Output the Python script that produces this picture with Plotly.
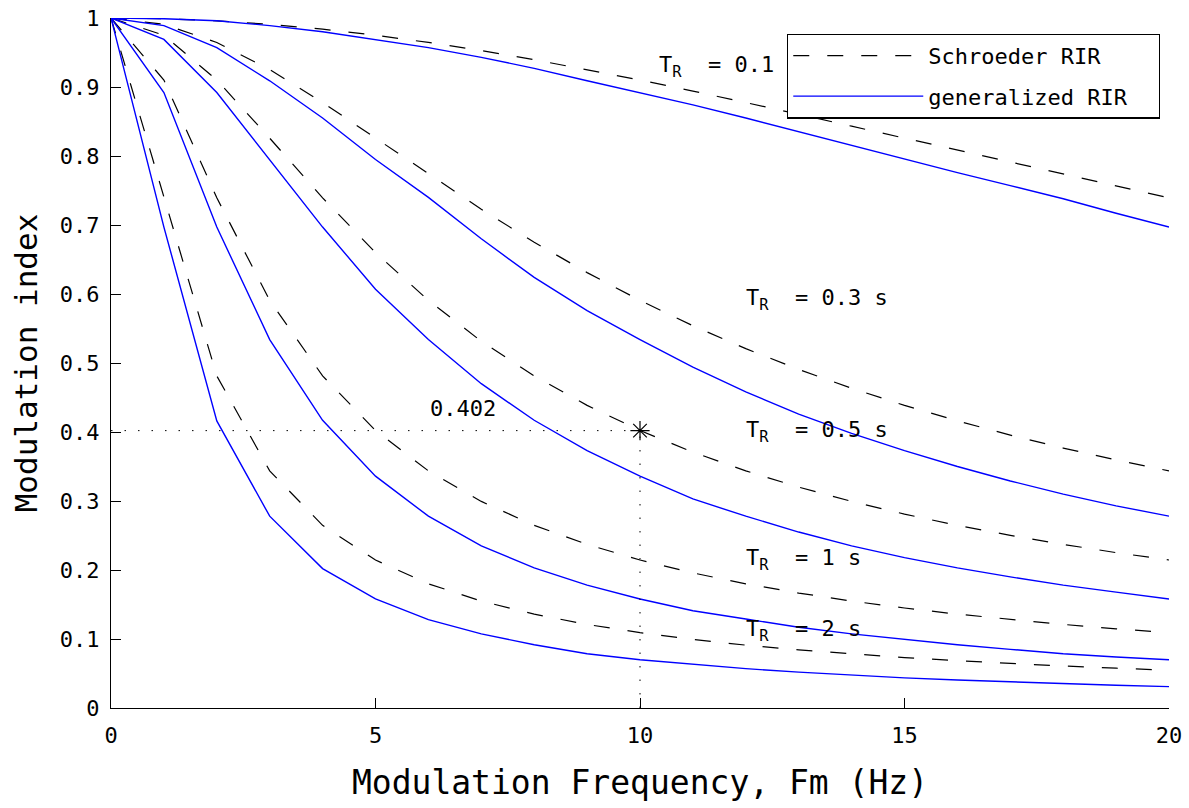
import plotly.graph_objects as go

# Modulation frequency (Hz)
freq = [0, 1, 2, 3, 4, 5, 6, 7, 8, 9, 10, 11, 12, 13, 14, 15, 16, 17, 18, 19, 20]

# Schroeder RIR modulation index (dashed black)
schroeder_t01 = [1, 0.999, 0.9959, 0.9908, 0.9838, 0.9750, 0.9646, 0.9528, 0.9396, 0.9253, 0.9101,
                 0.8941, 0.8776, 0.8606, 0.8432, 0.8258, 0.8083, 0.7908, 0.7734, 0.7563, 0.7394]
schroeder_t03 = [1, 0.9908, 0.9646, 0.9253, 0.8776, 0.8258, 0.7734, 0.7228, 0.6751, 0.6310, 0.5907,
                 0.5540, 0.5208, 0.4907, 0.4634, 0.4386, 0.4161, 0.3955, 0.3767, 0.3595, 0.3437]
schroeder_t05 = [1, 0.9750, 0.9101, 0.8258, 0.7394, 0.6600, 0.5907, 0.5315, 0.4813, 0.4386, 0.4022,
                 0.3708, 0.3437, 0.3201, 0.2994, 0.2810, 0.2647, 0.2502, 0.2371, 0.2252, 0.2145]
schroeder_t1 = [1, 0.9101, 0.7394, 0.5907, 0.4813, 0.4022, 0.3437, 0.2994, 0.2647, 0.2371, 0.2145,
                0.1958, 0.1800, 0.1666, 0.1550, 0.1449, 0.1360, 0.1281, 0.1211, 0.1148, 0.1092]
schroeder_t2 = [1, 0.7394, 0.4813, 0.3437, 0.2647, 0.2145, 0.1800, 0.1550, 0.1360, 0.1211, 0.1092,
                0.0993, 0.0911, 0.0842, 0.0783, 0.0731, 0.0685, 0.0645, 0.0609, 0.0577, 0.0548]

# Generalized RIR modulation index (solid blue)
general_t01 = [1, 0.999, 0.996, 0.989, 0.980, 0.969, 0.957, 0.943, 0.927, 0.909, 0.892,
               0.874, 0.855, 0.835, 0.815, 0.795, 0.776, 0.757, 0.738, 0.717, 0.697]
general_t03 = [1, 0.989, 0.957, 0.909, 0.855, 0.795, 0.740, 0.680, 0.624, 0.576, 0.534,
               0.494, 0.458, 0.426, 0.398, 0.373, 0.350, 0.329, 0.310, 0.293, 0.278]
general_t05 = [1, 0.969, 0.892, 0.795, 0.697, 0.607, 0.534, 0.470, 0.417, 0.373, 0.336,
               0.303, 0.278, 0.255, 0.235, 0.218, 0.203, 0.190, 0.178, 0.168, 0.158]
general_t1 = [1, 0.892, 0.697, 0.534, 0.417, 0.336, 0.278, 0.235, 0.203, 0.178, 0.158,
              0.141, 0.129, 0.117, 0.1075, 0.099, 0.0916, 0.085, 0.0786, 0.074, 0.0699]
general_t2 = [1, 0.697, 0.416, 0.278, 0.202, 0.158, 0.128, 0.1075, 0.0916, 0.0786, 0.0699,
              0.063, 0.057, 0.052, 0.0475, 0.0437, 0.0405, 0.0377, 0.0352, 0.033, 0.031]

# Marked point
mark_f = [10]
mark_m = [0.402]

# Curve labels
label_text = ["T<sub>R</sub>  = 0.1", "T<sub>R</sub>  = 0.3 s", "T<sub>R</sub>  = 0.5 s",
              "T<sub>R</sub>  = 1 s", "T<sub>R</sub>  = 2 s"]
label_x = [10.32, 11.97, 11.97, 11.97, 11.97]
label_y = [0.929, 0.592, 0.401, 0.215, 0.112]

# Axis ticks
x_ticks = [0, 5, 10, 15, 20]
y_ticks = [0, 0.1, 0.2, 0.3, 0.4, 0.5, 0.6, 0.7, 0.8, 0.9, 1]
y_tick_text = ["0", "0.1", "0.2", "0.3", "0.4", "0.5", "0.6", "0.7", "0.8", "0.9", "1"]

FONT = "DejaVu Sans Mono"
DASH = "16px,18px"
FS = 22

fig = go.Figure()

schroeder = [schroeder_t01, schroeder_t03, schroeder_t05, schroeder_t1, schroeder_t2]
general = [general_t01, general_t03, general_t05, general_t1, general_t2]

for i, ys in enumerate(schroeder):
    fig.add_trace(go.Scatter(
        x=freq, y=ys, mode="lines", name="Schroeder RIR  ",
        line=dict(color="black", width=1.2, dash=DASH),
        showlegend=(i == 0), legendgroup="a", legendrank=1,
    ))
for i, ys in enumerate(general):
    fig.add_trace(go.Scatter(
        x=freq, y=ys, mode="lines", name="generalized RIR  ",
        line=dict(color="#0000ff", width=1.4),
        showlegend=(i == 0), legendgroup="b", legendrank=2,
    ))

# dotted guide lines
fig.add_trace(go.Scatter(x=[0, mark_f[0]], y=[mark_m[0], mark_m[0]], mode="lines",
                         line=dict(color="black", width=1, dash="1.5px,12px"), showlegend=False))
fig.add_trace(go.Scatter(x=[mark_f[0], mark_f[0]], y=[0, mark_m[0]], mode="lines",
                         line=dict(color="black", width=1, dash="1.5px,12px"), showlegend=False))
fig.add_trace(go.Scatter(x=mark_f, y=mark_m, mode="markers",
                         marker=dict(symbol="asterisk-open", size=16, color="black",
                                     line=dict(color="black", width=1.2)),
                         showlegend=False))

for t, x, y in zip(label_text, label_x, label_y):
    fig.add_annotation(x=x, y=y, text=t, showarrow=False, xanchor="left", yanchor="middle",
                       font=dict(family=FONT, size=FS, color="black"))
fig.add_annotation(x=5.99, y=0.434, text=f"{mark_m[0]:.3f}", showarrow=False,
                   xanchor="left", yanchor="middle",
                   font=dict(family=FONT, size=FS, color="black"))

fig.update_layout(
    width=1189, height=808,
    margin=dict(l=111, r=20, t=18, b=100, pad=0, autoexpand=False),
    paper_bgcolor="white", plot_bgcolor="white",
    font=dict(family=FONT, size=FS, color="black"),
    showlegend=True,
    legend=dict(
        x=0.639, y=0.9775, xanchor="left", yanchor="top",
        bgcolor="white", bordercolor="black", borderwidth=1.2,
        font=dict(family=FONT, size=FS, color="black"),
        traceorder="grouped", tracegroupgap=9, itemwidth=130,
    ),
    xaxis=dict(
        range=[0, 20], tickvals=x_ticks, ticks="inside", ticklen=10, tickwidth=1,
        tickcolor="black", showline=True, linecolor="black", linewidth=1.2,
        showgrid=False, zeroline=False, mirror=False, automargin=False,
        ticklabelstandoff=7,
        tickfont=dict(family=FONT, size=FS),
        title=dict(text="Modulation Frequency, Fm (Hz)", font=dict(family=FONT, size=33), standoff=24),
    ),
    yaxis=dict(
        range=[0, 1], tickvals=y_ticks, ticktext=y_tick_text, ticks="inside", ticklen=10,
        tickwidth=1, tickcolor="black", showline=True, linecolor="black", linewidth=1.2,
        showgrid=False, zeroline=False, mirror=False, automargin=False,
        ticklabelstandoff=6,
        tickfont=dict(family=FONT, size=FS),
        title=dict(text="Modulation index", font=dict(family=FONT, size=31), standoff=12),
    ),
)

fig.write_html("out.html")
